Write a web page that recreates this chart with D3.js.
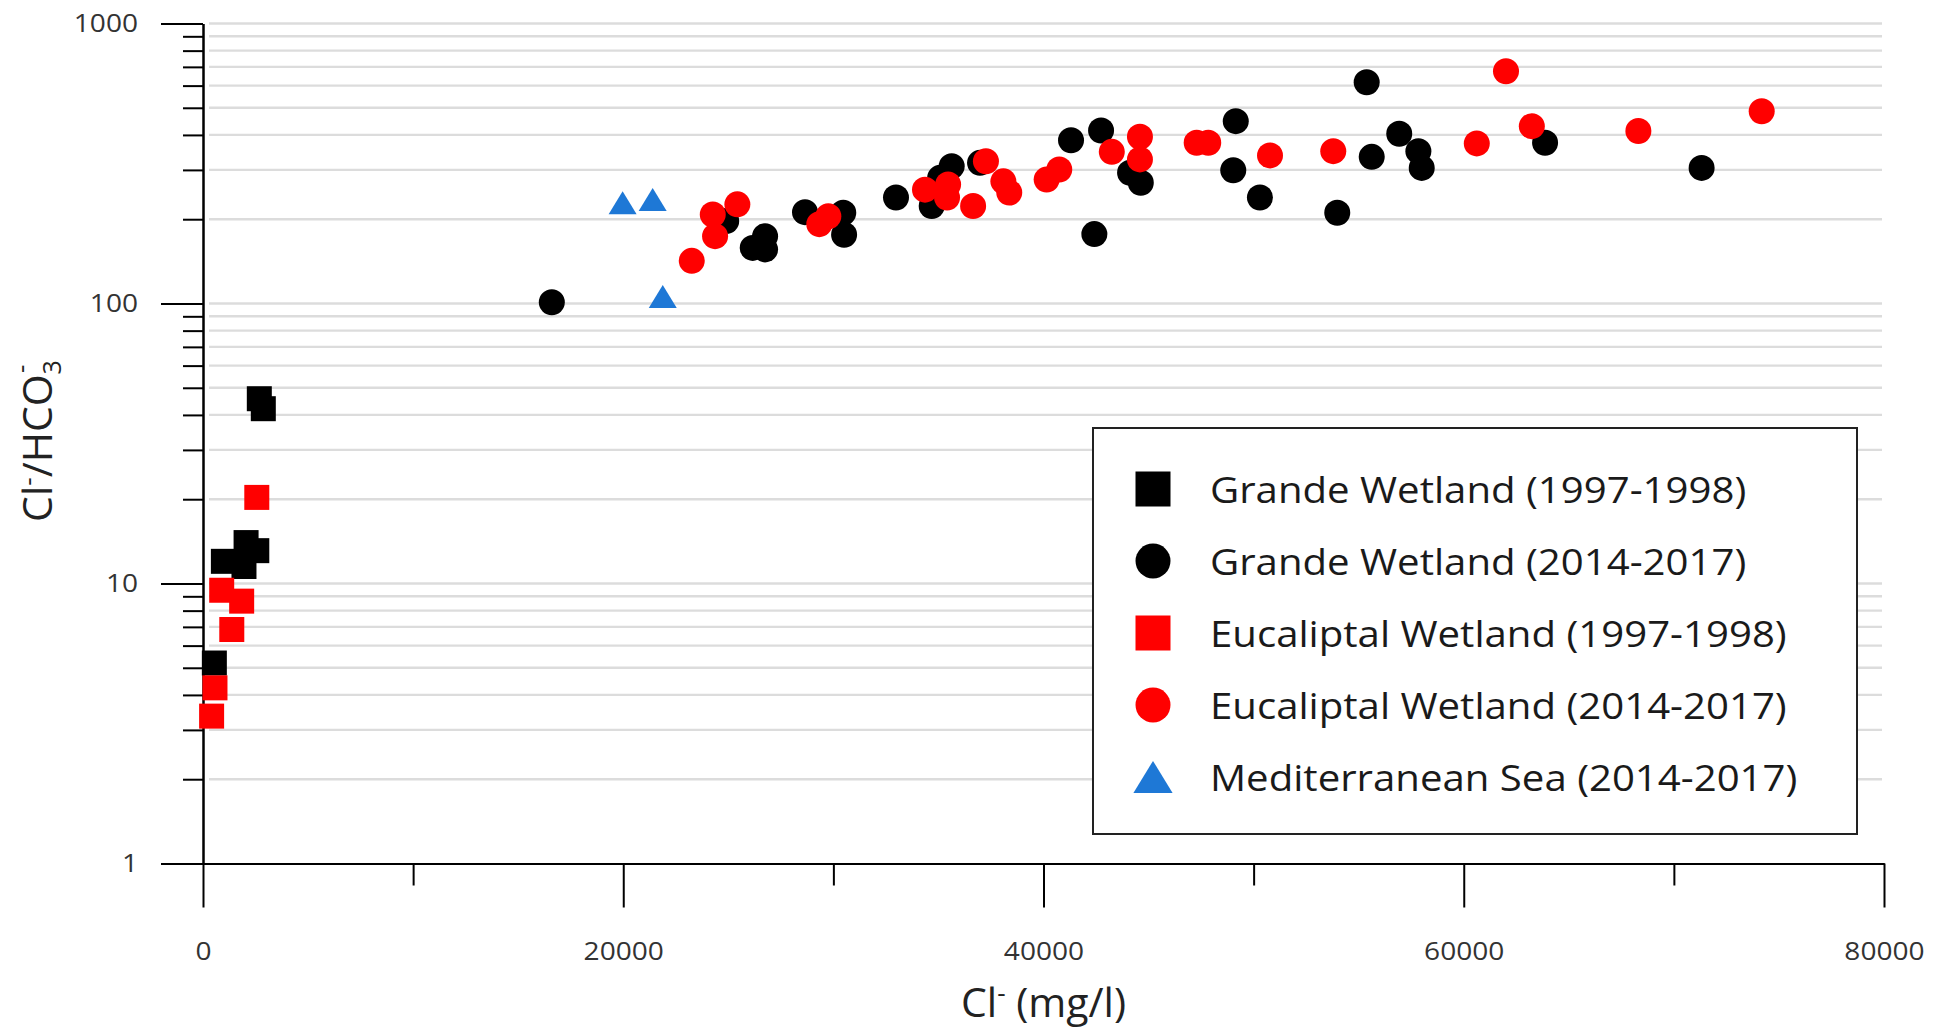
<!DOCTYPE html>
<html>
<head>
<meta charset="utf-8">
<script src="https://cdn.jsdelivr.net/npm/d3@7"></script>
<style>
  body { margin: 0; background: #fff; }
  svg { display: block; font-family: "Open Sans", sans-serif; }
  .grid line { stroke: #dcdcdc; stroke-width: 2.4; }
  .axis path, .axis line { stroke: #000; stroke-width: 2; }
  .axis text { font-family: "Open Sans", sans-serif; font-size: 26px; fill: #333; }
</style>
</head>
<body>
<div id="graph1"></div>
<script>
var margin = {top: 23.5, right: 66, bottom: 171.5, left: 203},
    width = 1950 - margin.left - margin.right,
    height = 1035 - margin.top - margin.bottom;

// legend entries, same order as the original
var seriesNames = ["Grande Wetland (1997-1998)", "Grande Wetland (2014-2017)",
                   "Eucaliptal Wetland (1997-1998)", "Eucaliptal Wetland (2014-2017)",
                   "Mediterranean Sea (2014-2017)"];
var seriesColors = ["#000000", "#000000", "#ff0000", "#ff0000", "#1e78d6"];
var seriesShapes = ["square", "circle", "square", "circle", "triangle"];

var xTicks = [0, 20000, 40000, 60000, 80000];
var xMinorTicks = [10000, 30000, 50000, 70000];
var yTicks = [1, 10, 100, 1000];
var yMinorTicks = [2, 3, 4, 5, 6, 7, 8, 9, 20, 30, 40, 50, 60, 70, 80, 90,
                   200, 300, 400, 500, 600, 700, 800, 900];

// [Cl- mg/l, Cl-/HCO3-]
var grandeOld = [[540, 5.2], [970, 12.0], [1950, 11.5], [2050, 14.0], [2560, 13.1],
                 [2680, 45.7], [2870, 42.1]];

var grandeNew = [[16600, 101], [24900, 197], [26160, 158], [26750, 174], [26750, 156],
                 [28650, 212], [30470, 211], [30510, 176], [32980, 239], [35630, 309],
                 [35080, 281], [34680, 223], [36980, 318], [41310, 383], [42740, 415],
                 [44120, 293], [44630, 270], [42420, 177], [49150, 448], [49030, 299],
                 [50300, 239], [53980, 211], [55380, 617], [55620, 334], [56930, 404],
                 [57840, 350], [58000, 305], [63870, 375], [71320, 305]];

var eucaliptalOld = [[410, 3.36], [570, 4.24], [890, 9.46], [1370, 6.85], [1840, 8.65],
                     [2560, 20.3]];

var eucaliptalNew = [[23260, 142], [24370, 174], [24260, 208], [25430, 226], [29330, 192],
                     [29760, 205], [34360, 255], [35460, 266], [35410, 239], [36650, 223],
                     [37260, 322], [38090, 273], [38370, 249], [40150, 277], [40750, 301],
                     [43250, 348], [44590, 394], [44590, 327], [47290, 375], [47840, 375],
                     [50780, 338], [53790, 350], [60620, 373], [62010, 675], [63240, 430],
                     [68310, 413], [74180, 486]];

var mediterranean = [[19970, 229], [21400, 235], [21880, 106]];

var seriesData = [grandeOld, grandeNew, eucaliptalOld, eucaliptalNew, mediterranean];

var x = d3.scaleLinear()
    .domain([0, 80000])
    .range([0, width]);

var y = d3.scaleLog()
    .domain([1, 1000])
    .range([height, 0]);

var svg = d3.select("#graph1").append("svg")
    .attr("width", width + margin.left + margin.right)
    .attr("height", height + margin.top + margin.bottom)
    .append("g")
    .attr("transform", "translate(" + margin.left + "," + margin.top + ")");

// stretch text a little, the original lettering is wider
function stretch(sel, k) {
    sel.each(function() {
        var len = this.getComputedTextLength();
        d3.select(this).attr("textLength", len * k).attr("lengthAdjust", "spacingAndGlyphs");
    });
}

// draw one marker centred on 0,0
function marker(g, shape, s, color) {
    if (shape == "square") {
        g.append("rect")
            .attr("x", -s / 2).attr("y", -s / 2)
            .attr("width", s).attr("height", s)
            .attr("fill", color);
    } else if (shape == "circle") {
        g.append("circle")
            .attr("r", s / 2)
            .attr("fill", color);
    } else {
        var w = s * 1.12, h = s * 0.92;
        g.append("path")
            .attr("d", "M0," + (-h / 2) + "L" + (w / 2) + "," + (h / 2) + "L" + (-w / 2) + "," + (h / 2) + "Z")
            .attr("fill", color);
    }
}

// horizontal grid lines
svg.append("g")
    .attr("class", "grid")
    .selectAll("line")
    .data(yMinorTicks.concat(yTicks.slice(1)))
    .enter()
    .append("line")
    .attr("x1", 6)
    .attr("x2", width - 2)
    .attr("y1", function(d) { return y(d); })
    .attr("y2", function(d) { return y(d); });

// minor ticks first, then the labelled ones
svg.append("g")
    .attr("class", "axis")
    .call(d3.axisLeft(y).tickValues(yMinorTicks).tickSize(20).tickSizeOuter(0).tickFormat(""));

var yAxisG = svg.append("g")
    .attr("class", "axis")
    .call(d3.axisLeft(y).tickValues(yTicks).tickSize(42).tickPadding(23).tickSizeOuter(0)
        .tickFormat(d3.format("d")));

svg.append("g")
    .attr("class", "axis")
    .attr("transform", "translate(0," + height + ")")
    .call(d3.axisBottom(x).tickValues(xMinorTicks).tickSize(22).tickSizeOuter(0).tickFormat(""));

var xAxisG = svg.append("g")
    .attr("class", "axis")
    .attr("transform", "translate(0," + height + ")")
    .call(d3.axisBottom(x).tickValues(xTicks).tickSize(44).tickPadding(34).tickSizeOuter(0)
        .tickFormat(d3.format("d")));

stretch(yAxisG.selectAll("text"), 1.08);
stretch(xAxisG.selectAll("text"), 1.08);

// the points
seriesData.forEach(function(data, i) {
    svg.append("g")
        .selectAll("g")
        .data(data)
        .enter()
        .append("g")
        .attr("transform", function(d) { return "translate(" + x(d[0]) + "," + y(d[1]) + ")"; })
        .each(function() {
            var s = seriesShapes[i] == "circle" ? 26 : 25;
            marker(d3.select(this), seriesShapes[i], s, seriesColors[i]);
        });
});

// axis titles
var xTitle = svg.append("text")
    .attr("x", width / 2)
    .attr("y", height + 153)
    .attr("text-anchor", "middle")
    .style("font-size", "41px")
    .style("fill", "#222");
xTitle.append("tspan").text("Cl");
xTitle.append("tspan").attr("dy", -15).style("font-size", "26px").text("-");
xTitle.append("tspan").attr("dy", 15).text(" (mg/l)");

var yTitle = svg.append("text")
    .attr("transform", "translate(" + (52 - margin.left) + "," + (441 - margin.top) + ") rotate(-90)")
    .attr("text-anchor", "middle")
    .style("font-size", "41px")
    .style("fill", "#222");
yTitle.append("tspan").text("Cl");
yTitle.append("tspan").attr("dy", -15).style("font-size", "26px").text("-");
yTitle.append("tspan").attr("dy", 15).text("/HCO");
yTitle.append("tspan").attr("dy", 9).style("font-size", "25px").text("3");
yTitle.append("tspan").attr("dx", -13).attr("dy", -31).style("font-size", "26px").text("-");

// legend
var legend = svg.append("g")
    .attr("transform", "translate(" + (1093 - margin.left) + "," + (428 - margin.top) + ")");

legend.append("rect")
    .attr("width", 764)
    .attr("height", 406)
    .attr("fill", "#fff")
    .attr("stroke", "#222")
    .attr("stroke-width", 2);

var rows = legend.selectAll(".row")
    .data(seriesNames)
    .enter()
    .append("g")
    .attr("class", "row")
    .attr("transform", function(d, i) { return "translate(60," + (61 + i * 72) + ")"; });

rows.each(function(d, i) {
    marker(d3.select(this), seriesShapes[i], 35, seriesColors[i]);
});

var legendText = rows.append("text")
    .attr("x", 57)
    .attr("y", 14)
    .style("font-size", "37px")
    .style("fill", "#1a1a1a")
    .text(function(d) { return d; });

stretch(legendText, 1.085);
</script>
</body>
</html>
